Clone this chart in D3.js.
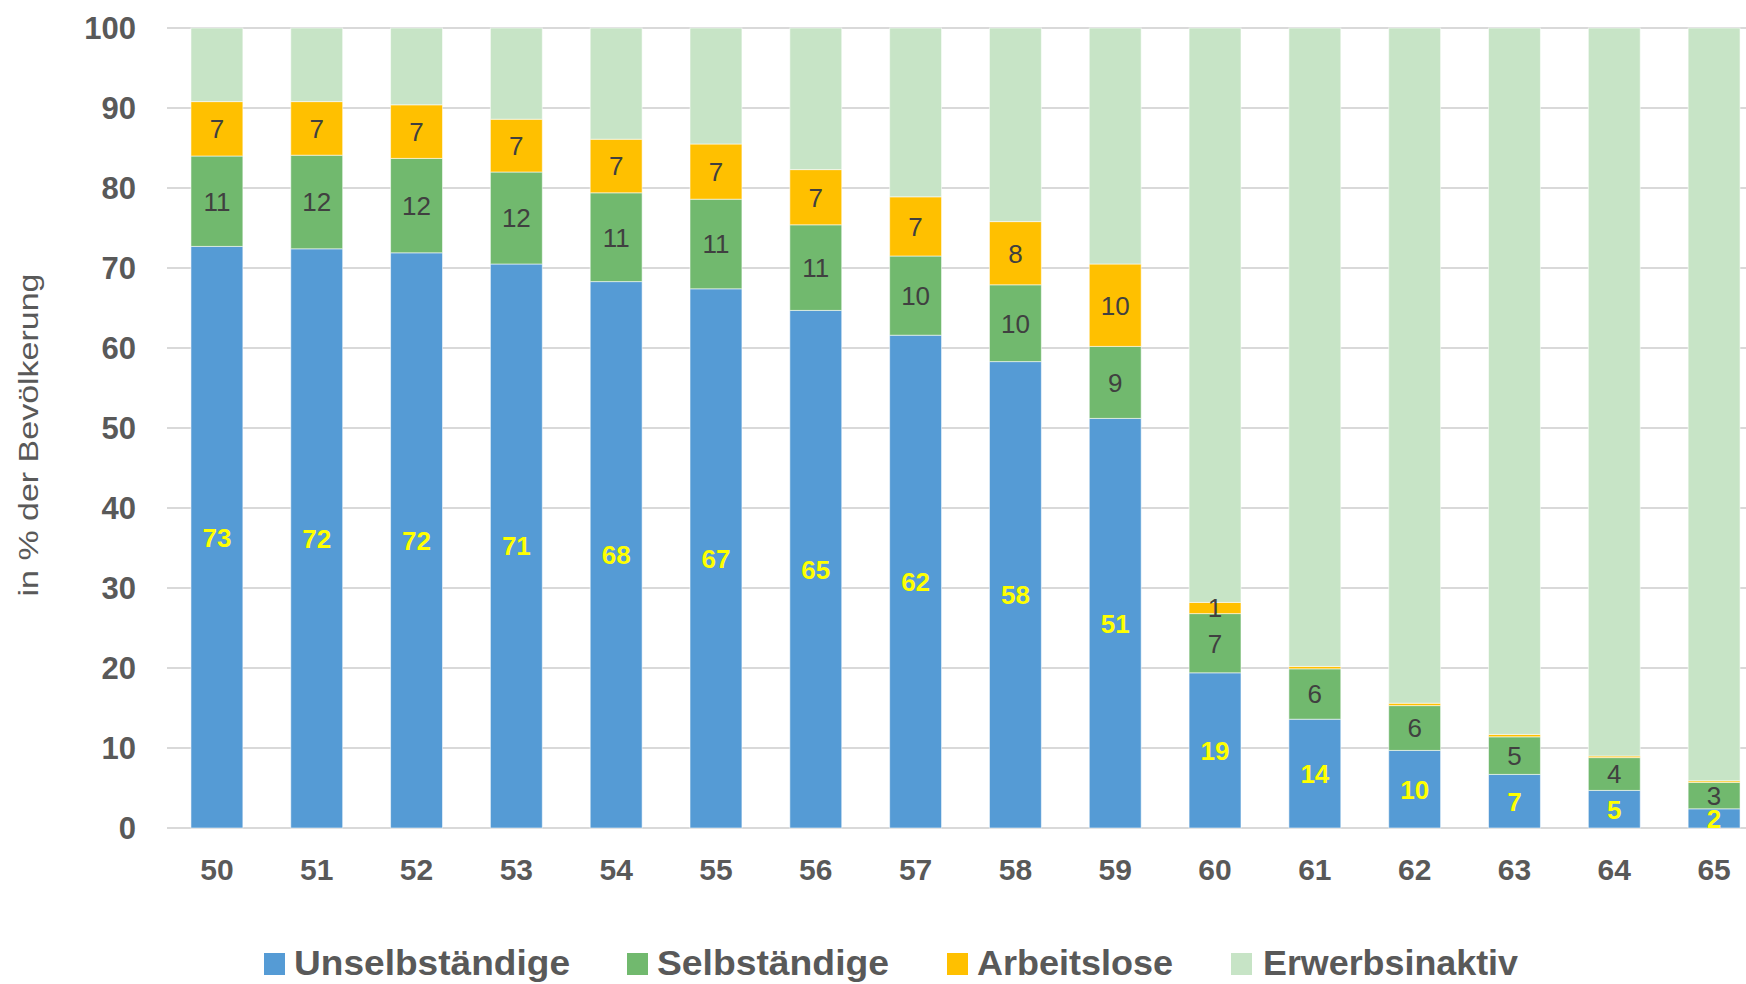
<!DOCTYPE html>
<html><head><meta charset="utf-8">
<script src="https://cdn.jsdelivr.net/npm/d3@7/dist/d3.min.js"></script>
<style>html,body{margin:0;padding:0;background:#fff;}svg{display:block;}</style>
</head><body>
<svg id="chart" width="1746" height="984"></svg>
<script>
const ages = ["50","51","52","53","54","55","56","57","58","59","60","61","62","63","64","65"];
const unselbstaendige = [72.7,72.4,71.9,70.5,68.3,67.4,64.7,61.6,58.3,51.2,19.4,13.6,9.7,6.7,4.7,2.4];
const selbstaendige   = [11.3,11.7,11.8,11.5,11.1,11.2,10.7,9.9,9.6,9.0,7.4,6.3,5.6,4.7,4.1,3.3];
const arbeitslose     = [6.8,6.7,6.7,6.6,6.7,6.9,6.9,7.4,7.9,10.3,1.4,0.3,0.3,0.3,0.2,0.2];
const yTicks = [0,10,20,30,40,50,60,70,80,90,100];
const seriesNames = ["Unselbständige","Selbständige","Arbeitslose","Erwerbsinaktiv"];
const seriesColors = ["#559BD5","#71B96E","#FFC000","#C7E4C6"];
const yAxisTitle = "in % der Bevölkerung";

const erwerbsinaktiv = ages.map((a,i)=>100-unselbstaendige[i]-selbstaendige[i]-arbeitslose[i]);
const rows = ages.map((a,i)=>({age:a, "Unselbständige":unselbstaendige[i], "Selbständige":selbstaendige[i], "Arbeitslose":arbeitslose[i], "Erwerbsinaktiv":erwerbsinaktiv[i]}));

const svg = d3.select("#chart");
const plotLeft = 167, plotRight = 1764, plotTop = 28, plotBottom = 828;
const x = d3.scaleBand().domain(ages).range([plotLeft, plotRight]).paddingInner(0.48).paddingOuter(0.24);
const y = d3.scaleLinear().domain([0,100]).range([plotBottom, plotTop]);

// gridlines
svg.append("g").selectAll("line").data(yTicks).join("line")
  .attr("x1", plotLeft).attr("x2", 1746)
  .attr("y1", d=>y(d)).attr("y2", d=>y(d))
  .attr("stroke", "#d9d9d9").attr("stroke-width", 2);

// y tick labels
svg.append("g").selectAll("text").data(yTicks).join("text")
  .attr("x", 136).attr("y", d=>y(d)).attr("dy","0.36em")
  .attr("text-anchor","end")
  .attr("font-family","'Liberation Sans', Arial, sans-serif")
  .attr("font-weight","bold").attr("font-size",31).attr("fill","#595959")
  .text(d=>d);

// x tick labels
svg.append("g").selectAll("text").data(ages).join("text")
  .attr("x", d=>x(d)+x.bandwidth()/2).attr("y", 880)
  .attr("text-anchor","middle")
  .attr("font-family","'Liberation Sans', Arial, sans-serif")
  .attr("font-weight","bold").attr("font-size",30).attr("fill","#595959")
  .text(d=>d);

// stacked bars
const stack = d3.stack().keys(seriesNames)(rows);
const color = d3.scaleOrdinal().domain(seriesNames).range(seriesColors);
const layers = svg.append("g").selectAll("g").data(stack).join("g")
  .attr("fill", d=>color(d.key));
layers.selectAll("rect").data(d=>d).join("rect")
  .attr("x", d=>x(d.data.age)).attr("width", x.bandwidth())
  .attr("y", d=>y(d[1])).attr("height", d=>y(d[0])-y(d[1]))
  .attr("stroke","#ffffff").attr("stroke-opacity",0.55).attr("stroke-width",1);

// data labels
stack.forEach((layer, li)=>{
  if (li === 3) return;
  const lbl = layer.filter(d=>Math.round(d[1]-d[0]) >= 1);
  svg.append("g").selectAll("text").data(lbl).join("text")
    .attr("x", d=>x(d.data.age)+x.bandwidth()/2)
    .attr("y", d=>y((d[0]+d[1])/2)).attr("dy","0.36em")
    .attr("text-anchor","middle")
    .attr("font-family","'Liberation Sans', Arial, sans-serif")
    .attr("font-weight", li===0 ? "bold" : "normal")
    .attr("font-size", 26)
    .attr("fill", li===0 ? "#FFFF00" : "#404040")
    .text(d=>Math.round(d[1]-d[0]));
});

// y axis title
svg.append("text")
  .attr("transform","translate(38,435) rotate(-90)")
  .attr("text-anchor","middle")
  .attr("font-family","'Liberation Sans', Arial, sans-serif")
  .attr("font-size",27).attr("fill","#595959")
  .attr("textLength",323).attr("lengthAdjust","spacingAndGlyphs")
  .text(yAxisTitle);

// legend
const legendSq = [264, 627, 947, 1231];
const legendTextX = [294, 657, 977, 1263];
const legendTextW = [276, 232, 196, 255];
const lg = svg.append("g");
seriesNames.forEach((n,i)=>{
  lg.append("rect").attr("x", legendSq[i]).attr("y", 953).attr("width", 21).attr("height", 22)
    .attr("fill", color(n));
  lg.append("text").attr("x", legendTextX[i]).attr("y", 975)
    .attr("font-family","'Liberation Sans', Arial, sans-serif")
    .attr("font-weight","bold").attr("font-size",35).attr("fill","#595959")
    .attr("textLength", legendTextW[i]).attr("lengthAdjust","spacingAndGlyphs")
    .text(n);
});
</script>
</body></html>
